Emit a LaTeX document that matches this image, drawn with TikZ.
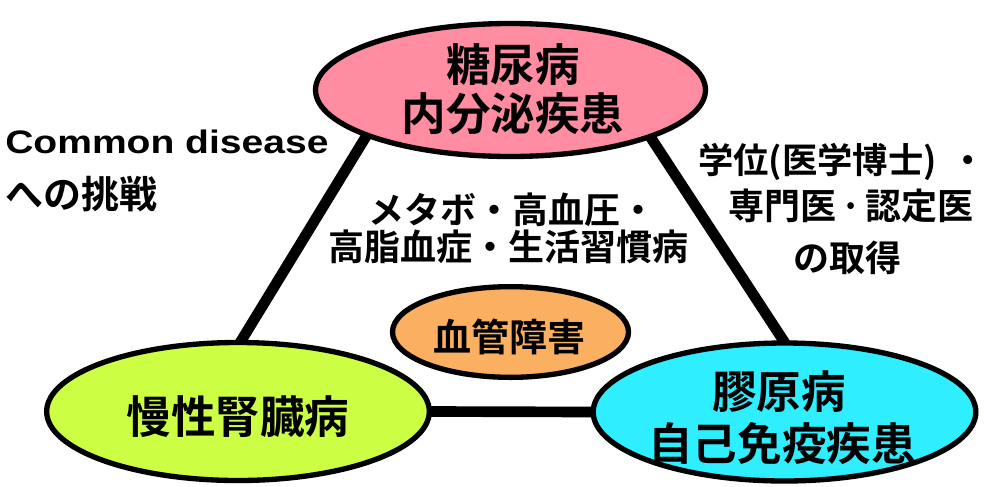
\documentclass[tikz,border=0pt]{standalone}
\usepackage{fontspec}
\setmainfont{Liberation Sans}
\newfontfamily\jp{Noto Sans CJK JP}[BoldFont={Noto Sans CJK JP Bold}]
\newfontfamily\latw{Liberation Sans}[FakeStretch=1.2]
\usetikzlibrary{shapes.geometric,backgrounds}
\definecolor{pinkc}{RGB}{255,140,160}
\definecolor{greenc}{RGB}{204,255,68}
\definecolor{cyanc}{RGB}{46,238,255}
\definecolor{orangec}{RGB}{250,176,96}
\begin{document}
\begin{tikzpicture}[x=0.75pt,y=-0.75pt,
  ell/.style={draw=black,line width=4pt,ellipse,inner sep=0pt},
  conn/.style={draw=black,line width=8pt,shorten <=-6pt,shorten >=-6pt},
  bigtxt/.style={font=\jp\bfseries\fontsize{33.4}{36}\selectfont,inner sep=0pt},
  midtxt/.style={font=\jp\bfseries\fontsize{28.5}{30}\selectfont,inner sep=0pt},
  notetxt/.style={font=\jp\bfseries\fontsize{27}{30}\selectfont,inner sep=0pt},
  lattxt/.style={font=\latw\bfseries\fontsize{24.4}{28}\selectfont,inner sep=0pt}]
\useasboundingbox (0,0) rectangle (989,486);
% ellipses
\node[ell,fill=pinkc,minimum width=292.5pt,minimum height=99.75pt] (top) at (510.5,90) {};
\node[ell,fill=greenc,minimum width=287pt,minimum height=103.5pt] (left) at (238,411.5) {};
\node[ell,fill=cyanc,minimum width=287pt,minimum height=103.5pt] (right) at (784.5,412) {};
\node[ell,fill=orangec,minimum width=177pt,minimum height=68pt] (mid) at (510.5,332) {};
% connectors
\begin{pgfonlayer}{background}
\draw[conn] (top.198) -- (left.87);
\draw[conn] (top.341) -- (right.91);
\draw[conn] (left.0) -- (right.180);
\end{pgfonlayer}
% ellipse texts
\node[bigtxt] (t1) at (513,65) {糖尿病};
\node[bigtxt] (t2) at (513,114) {内分泌疾患};
\node[bigtxt] (l1) at (238,417) {慢性腎臓病};
\node[bigtxt] (r1) at (779,392) {膠原病};
\node[bigtxt] (r2) at (782,444) {自己免疫疾患};
\node[midtxt] (m1) at (509,337) {血管障害};
% middle notes
\node[notetxt] (n1) at (512,210) {メタボ・高血圧・};
\node[notetxt] (n2) at (508,247) {高脂血症・生活習慣病};
% left notes
\node[lattxt,anchor=base west] (c1) at (5,153) {Common disease};
\node[midtxt,anchor=west] (c2) at (5,194) {への挑戦};
% right notes
\node[notetxt,font=\jp\bfseries\fontsize{26.5}{30}\selectfont,anchor=west] (g1) at (698,162) {学位(医学博士)\hspace{10pt}・};
\node[notetxt] (g2) at (851,206) {専門医\makebox[0.8em]{·}認定医};
\node[notetxt] (g3) at (847,258) {の取得};
\end{tikzpicture}
\end{document}
